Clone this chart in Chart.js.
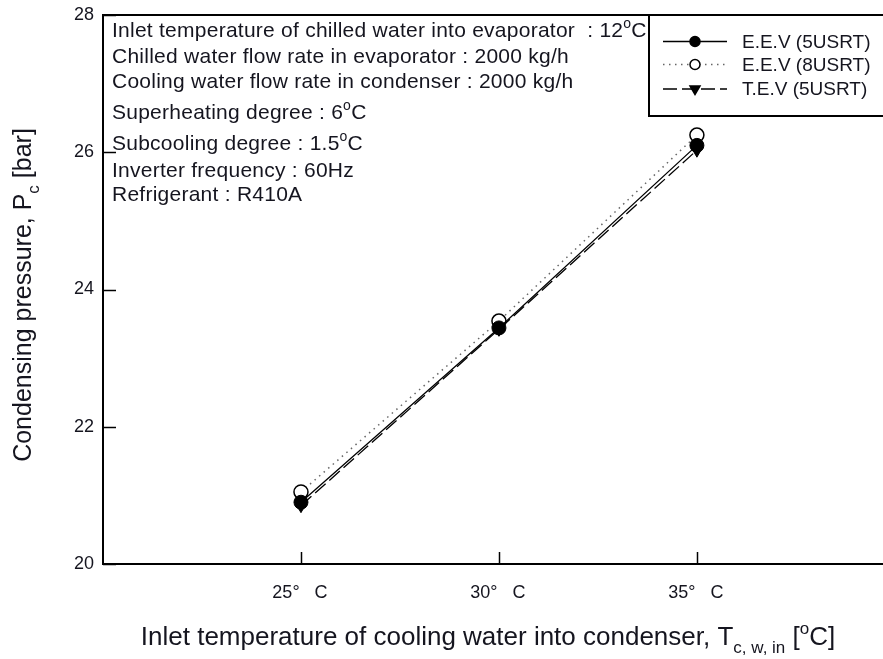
<!DOCTYPE html>
<html>
<head>
<meta charset="utf-8">
<script src="https://cdn.jsdelivr.net/npm/chart.js@4/dist/chart.umd.min.js"></script>
<style>
  html, body { margin: 0; padding: 0; background: #fff; }
  canvas { display: block; }
</style>
</head>
<body>
<canvas id="chart" width="883" height="659"></canvas>
<script>
// Inlet temperature of cooling water (°C)
const inletTemps = [25, 30, 35];
const xTickValues = [25, 30, 35];
const xTickLabels = ['25°   C', '30°   C', '35°   C'];
const yTickValues = [20, 22, 24, 26, 28];

// Condensing pressure (bar)
const eev5usrt = [20.90, 23.44, 26.10];
const eev8usrt = [21.05, 23.54, 26.25];
const tev5usrt = [20.85, 23.42, 26.03];

const seriesNames = ['E.E.V (5USRT)', 'E.E.V (8USRT)', 'T.E.V (5USRT)'];

// Test conditions (^{..} superscript, _{..} subscript)
const conditions = [
  'Inlet temperature of chilled water into evaporator  : 12^{o}C',
  'Chilled water flow rate in evaporator : 2000 kg/h',
  'Cooling water flow rate in condenser : 2000 kg/h',
  'Superheating degree : 6^{o}C',
  'Subcooling degree : 1.5^{o}C',
  'Inverter frequency : 60Hz',
  'Refrigerant : R410A'
];
const xTitle = 'Inlet temperature of cooling water into condenser, T_{c, w, in} [^{o}C]';
const yTitle = 'Condensing pressure, P_{c} [bar]';

const FONT = '"Liberation Sans", Arial, Helvetica, sans-serif';
const INK = '#15151f';

function parseRich(text) {
  const parts = [];
  const re = /\^\{([^}]*)\}|_\{([^}]*)\}|[^\^_]+/g;
  let m;
  while ((m = re.exec(text)) !== null) {
    if (m[1] !== undefined) parts.push({ t: m[1], k: 'sup' });
    else if (m[2] !== undefined) parts.push({ t: m[2], k: 'sub' });
    else parts.push({ t: m[0], k: 'n' });
  }
  return parts;
}

function setPartFont(ctx, p, size) {
  ctx.font = (p.k === 'n' ? size : Math.round(size * 0.66)) + 'px ' + FONT;
}

function richWidth(ctx, parts, size) {
  let w = 0;
  for (const p of parts) {
    setPartFont(ctx, p, size);
    w += ctx.measureText(p.t).width;
  }
  return w;
}

function drawRich(ctx, text, x, y, size, align, spacing) {
  ctx.save();
  if ('letterSpacing' in ctx) ctx.letterSpacing = (spacing || 0) + 'px';
  const parts = parseRich(text);
  const w = richWidth(ctx, parts, size);
  let cx = align === 'center' ? x - w / 2 : x;
  ctx.textBaseline = 'alphabetic';
  ctx.textAlign = 'left';
  for (const p of parts) {
    setPartFont(ctx, p, size);
    let dy = 0;
    if (p.k === 'sup') dy = -size * 0.42;
    if (p.k === 'sub') dy = size * 0.3;
    ctx.fillText(p.t, cx, y + dy);
    cx += ctx.measureText(p.t).width;
  }
  ctx.restore();
}

function drawMarker(ctx, style, x, y, r, fill) {
  ctx.save();
  ctx.lineWidth = 1.5;
  ctx.strokeStyle = '#000';
  ctx.fillStyle = fill;
  ctx.setLineDash([]);
  ctx.beginPath();
  if (style === 'triangle') {
    ctx.moveTo(x - r, y - r * 0.6);
    ctx.lineTo(x + r, y - r * 0.6);
    ctx.lineTo(x, y + r * 1.1);
    ctx.closePath();
  } else {
    ctx.arc(x, y, r, 0, Math.PI * 2);
  }
  ctx.fill();
  ctx.stroke();
  ctx.restore();
}

const decorations = {
  id: 'decorations',
  afterDatasetsDraw(chart) {
    const ctx = chart.ctx;
    const area = chart.chartArea;
    const xs = chart.scales.x;
    const ys = chart.scales.y;
    ctx.save();
    ctx.strokeStyle = '#000';
    ctx.lineWidth = 2;
    ctx.setLineDash([]);

    // top frame line
    ctx.beginPath();
    ctx.moveTo(area.left - 1, area.top);
    ctx.lineTo(area.right + 2, area.top);
    ctx.stroke();

    // inward tick marks
    ctx.lineWidth = 1.5;
    for (const v of yTickValues) {
      const py = Math.round(ys.getPixelForValue(v)) + 0.5;
      ctx.beginPath();
      ctx.moveTo(area.left, py);
      ctx.lineTo(area.left + 13, py);
      ctx.stroke();
    }
    for (const v of xTickValues) {
      const px = Math.round(xs.getPixelForValue(v)) + 0.5;
      ctx.beginPath();
      ctx.moveTo(px, area.bottom);
      ctx.lineTo(px, area.bottom - 12);
      ctx.stroke();
    }

    // legend box
    const lx = 649, ly = area.top, lw = 260, lh = 101;
    ctx.fillStyle = '#fff';
    ctx.fillRect(lx, ly, lw, lh);
    ctx.lineWidth = 2;
    ctx.strokeRect(lx, ly, lw, lh);

    const rows = [41.5, 64.5, 89];
    chart.data.datasets.forEach((ds, i) => {
      const ry = rows[i];
      ctx.save();
      ctx.strokeStyle = ds.borderColor;
      ctx.lineWidth = ds.borderWidth;
      ctx.setLineDash(ds.borderDash || []);
      ctx.beginPath();
      ctx.moveTo(663, ry);
      ctx.lineTo(727, ry);
      ctx.stroke();
      ctx.restore();
      drawMarker(ctx, ds.pointStyle, 695, ry, 5, ds.pointBackgroundColor);
      ctx.fillStyle = INK;
      ctx.font = '19px ' + FONT;
      ctx.textBaseline = 'middle';
      ctx.textAlign = 'left';
      ctx.fillText(ds.label, 742, ry + 1);
    });

    // condition notes
    ctx.fillStyle = INK;
    const baselines = [37, 63, 88, 119, 150, 176.5, 201];
    conditions.forEach((line, i) => drawRich(ctx, line, 112, baselines[i], 21, 'left', 0.25));

    // axis titles
    drawRich(ctx, xTitle, 488, 645, 26, 'center', 0);
    ctx.save();
    ctx.translate(31, 295);
    ctx.rotate(-Math.PI / 2);
    drawRich(ctx, yTitle, 0, 0, 25, 'center', 0);
    ctx.restore();

    ctx.restore();
  }
};

new Chart(document.getElementById('chart'), {
  type: 'line',
  data: {
    datasets: [
      {
        label: seriesNames[0],
        data: inletTemps.map((t, i) => ({ x: t, y: eev5usrt[i] })),
        borderColor: '#000',
        borderWidth: 1.3,
        pointStyle: 'circle',
        pointRadius: 7,
        pointBackgroundColor: '#000',
        pointBorderColor: '#000',
        pointBorderWidth: 1,
        order: 0
      },
      {
        label: seriesNames[1],
        data: inletTemps.map((t, i) => ({ x: t, y: eev8usrt[i] })),
        borderColor: '#666',
        borderWidth: 1.5,
        borderDash: [1.5, 4.5],
        pointStyle: 'circle',
        pointRadius: 7,
        pointBackgroundColor: '#fff',
        pointBorderColor: '#000',
        pointBorderWidth: 1.5,
        order: 2
      },
      {
        label: seriesNames[2],
        data: inletTemps.map((t, i) => ({ x: t, y: tev5usrt[i] })),
        borderColor: '#000',
        borderWidth: 1.3,
        borderDash: [14, 5],
        pointStyle: 'triangle',
        rotation: 180,
        pointRadius: 7,
        pointBackgroundColor: '#000',
        pointBorderColor: '#000',
        pointBorderWidth: 1,
        order: 1
      }
    ]
  },
  options: {
    responsive: false,
    animation: false,
    devicePixelRatio: 1,
    layout: { autoPadding: false, padding: { top: 15, right: 0, left: 0, bottom: 0 } },
    plugins: { legend: { display: false }, tooltip: { enabled: false } },
    scales: {
      x: {
        type: 'linear',
        min: 20,
        max: 39.7,
        afterBuildTicks: (s) => { s.ticks = xTickValues.map(v => ({ value: v })); },
        afterFit: (s) => { s.height = 95; s.paddingLeft = 0; s.paddingRight = 0; },
        grid: { display: false, drawTicks: false },
        border: { display: true, color: '#000', width: 2 },
        ticks: {
          color: INK,
          font: { family: FONT, size: 18 },
          padding: 18,
          labelOffset: -1,
          maxRotation: 0,
          autoSkip: false,
          callback: (v) => xTickLabels[xTickValues.indexOf(v)]
        }
      },
      y: {
        type: 'linear',
        min: 20,
        max: 28,
        afterBuildTicks: (s) => { s.ticks = yTickValues.map(v => ({ value: v })); },
        afterFit: (s) => { s.width = 103; s.paddingTop = 0; s.paddingBottom = 0; },
        grid: { display: false, drawTicks: false },
        border: { display: true, color: '#000', width: 2 },
        ticks: {
          color: INK,
          font: { family: FONT, size: 18 },
          padding: 9,
          autoSkip: false,
          callback: (v) => String(v)
        }
      }
    }
  },
  plugins: [decorations]
});
</script>
</body>
</html>
